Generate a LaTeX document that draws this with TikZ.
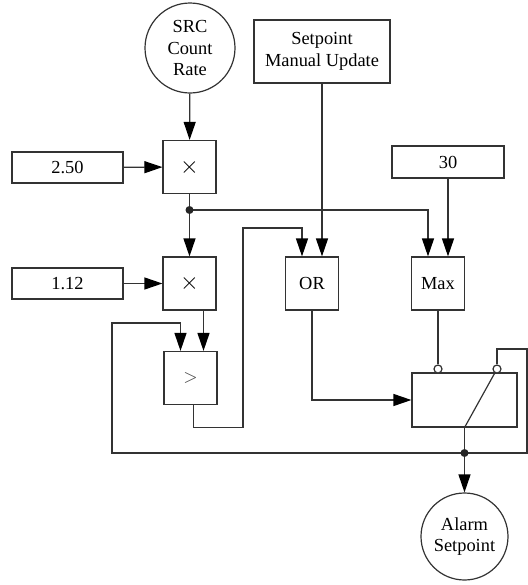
\documentclass[tikz,border=0pt]{standalone}
\usepackage{fontspec}
\setmainfont{Liberation Serif}
\usepackage{tikz}
\usetikzlibrary{arrows.meta, positioning}

\begin{document}
\begin{tikzpicture}[
        x=0.5pt, y=-0.5pt,
        font=\fontsize{9.2}{10.9}\selectfont,
        line width=0.6pt,
        wire/.style={draw=black!80},
        blk/.style={rectangle, draw=black!80, minimum width=26.5pt, minimum height=26.5pt, inner sep=0pt},
        const/.style={rectangle, draw=black!80, minimum width=55.5pt, minimum height=15.5pt, inner sep=0pt},
        term/.style={circle, draw=black!80, align=center, inner sep=1pt},
        bub/.style={circle, draw=black!80, fill=white, minimum size=4pt, inner sep=0pt},
        arr/.style={wire, -{Triangle[length=9pt,width=6pt,black]}},
        dot/.style={fill=black!85},
        mult/.style={font=\fontsize{13}{13}\selectfont},
    ]
        \useasboundingbox (0,0) rectangle (528,585);
        \node[term, minimum size=45pt]   (src)    at (190,48)    {SRC\\Count\\Rate};
        \node[rectangle, draw=black!80, align=center, minimum width=68pt, minimum height=31.5pt] (manual) at (322,51.5) {Setpoint\\Manual Update};
        \node[const] (k250) at (67.5,167.5) {2.50};
        \node[const] (k112) at (67.5,283.5) {1.12};
        \node[const, minimum width=56pt, minimum height=16pt] (k30) at (448,162) {30};
        \node[blk, mult] (mul1) at (189.5,167)   {$\times$};
        \node[blk, mult] (mul2) at (189.5,283.5) {$\times$};
        \node[blk, text=black!70] (cmp) at (190.5,378) {$>$};
        \node[blk]   (orb)    at (312,283.5)   {OR};
        \node[blk]   (maxb)   at (438,283.5)   {Max};
        \node[rectangle, draw=black!80, minimum width=52.5pt, minimum height=27pt] (relay) at (464.5,400) {};
        \node[bub]   (c1)     at (438,369)     {};
        \node[bub]   (c2)     at (497,369)     {};
        \node[term, minimum size=43.5pt] (alarm) at (464.5,536.5) {Alarm\\Setpoint};
        \coordinate (j1) at (189.5,210);
        \coordinate (j2) at (464.5,453);

        \draw[arr] (src) -- (mul1);
        \draw[arr] (k250) -- (mul1);
        \draw[arr] (k112) -- (mul2);
        \draw[arr] (mul1) -- (mul2);
        \draw[arr] (j1) -| ([xshift=-5pt]maxb.north);
        \draw[arr] (k30) -- ([xshift=5pt]maxb.north);
        \draw[arr] (manual) -- (manual.south |- orb.north);
        \draw[arr] ([xshift=7pt]mul2.south) -- ([xshift=7pt]mul2.south |- cmp.north);
        \draw[arr] ([xshift=1.5pt]cmp.south) -- ++(0,22) -| (243,228) -| ([xshift=-5pt]orb.north);
        \draw[arr] (orb) |- (relay);
        \draw[wire] (maxb) -- (c1);
        \draw[wire] (c2) -- (relay.south);
        \draw[arr] (relay.south) -- (alarm);
        \draw[arr] (c2) |- (527,349) |- (112,453) -- (112,323) -| ([xshift=-5pt]cmp.north);
        \fill[dot] (j1) circle (2pt);
        \fill[dot] (j2) circle (2pt);
    \end{tikzpicture}
\end{document}
